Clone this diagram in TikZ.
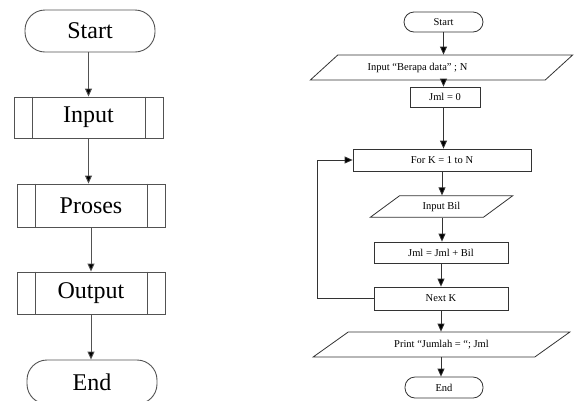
\documentclass[tikz,border=0pt]{standalone}
\usepackage{fontspec}
\setmainfont{Liberation Serif}
\usetikzlibrary{shapes.geometric,arrows.meta}
\begin{document}
\begin{tikzpicture}[x=1pt,y=-1pt,
  lline/.style={draw=black!68, line width=0.9pt},
  lterm/.style={lline, rectangle, rounded corners=20pt, font=\fontsize{24}{26}\selectfont, inner sep=0pt},
  lsub/.style={lline, rectangle, font=\fontsize{24}{26}\selectfont, inner sep=0pt},
  larrow/.style={draw=black!68, line width=0.9pt, -{Triangle[length=8pt,width=7pt,fill=black]}},
  rline/.style={draw=black!80, line width=0.8pt},
  rterm/.style={rline, rectangle, rounded corners=10pt, font=\fontsize{10.5}{12}\selectfont, inner sep=0pt},
  rbox/.style={rline, rectangle, font=\fontsize{10.5}{12}\selectfont, inner sep=0pt},
  rpar/.style={rline, trapezium, trapezium stretches=true, font=\fontsize{10.5}{12}\selectfont, inner sep=0pt},
  rarrow/.style={draw=black!80, line width=0.8pt, -{Triangle[length=8pt,width=7pt,fill=black]}}
]
\useasboundingbox (0,0) rectangle (575,400);

% left flowchart
\node[lterm, minimum width=130pt, minimum height=42pt] (ls) at (90,31) {Start};
\node[lsub, minimum width=149pt, minimum height=41pt] (li) at (88.5,117.5) {Input};
\node[lsub, minimum width=148pt, minimum height=43pt] (lp) at (91,205.5) {Proses};
\node[lsub, minimum width=148pt, minimum height=42pt] (lo) at (91,293) {Output};
\node[lterm, minimum width=130pt, minimum height=44pt] (le) at (92,382) {End};
\foreach \n in {li,lp,lo}{
  \draw[lline] ([xshift=18.5pt]\n.north west) -- ([xshift=18.5pt]\n.south west);
  \draw[lline] ([xshift=-18.5pt]\n.north east) -- ([xshift=-18.5pt]\n.south east);
}
\draw[larrow] (ls.south -| li.north) -- (li.north);
\draw[larrow] (li.south) -- (li.south |- lp.north);
\draw[larrow] (lp.south) -- (lp.south |- lo.north);
\draw[larrow] (lo.south) -- (lo.south |- le.north);

% right flowchart
\node[rterm, minimum width=79pt, minimum height=20pt] (rs) at (443.5,22) {Start};
\node[rpar, trapezium left angle=26, trapezium right angle=154, minimum width=263pt, minimum height=25pt] (rin) at (441.5,67.5) {Input “Berapa data” ; N\kern48pt};
\node[rbox, minimum width=70pt, minimum height=20pt] (rj) at (445,97) {Jml = 0};
\node[rbox, minimum width=178pt, minimum height=22pt] (rf) at (442,160) {For K = 1 to N};
\node[rpar, trapezium left angle=36, trapezium right angle=144, minimum width=143pt, minimum height=21.5pt] (rb) at (441.5,206.5) {Input Bil};
\node[rbox, minimum width=134pt, minimum height=21pt] (rjb) at (441,252.5) {Jml = Jml + Bil};
\node[rbox, minimum width=134pt, minimum height=23pt] (rn) at (441,298.5) {Next K};
\node[rpar, trapezium left angle=26.6, trapezium right angle=153.4, minimum width=257pt, minimum height=25pt] (rp) at (441.5,344.5) {Print “Jumlah = “; Jml};
\node[rterm, minimum width=78pt, minimum height=21pt] (re) at (444,387.5) {End};

\draw[rarrow] (rs.south) -- (rs.south |- rin.north);
\draw[rarrow] (rin.south -| rs.south) -- (rs.south |- rj.north);
\draw[rarrow] (rs.south |- rj.south) -- (rs.south |- rf.north);
\draw[rarrow] (rf.south) -- (rf.south |- rb.north);
\draw[rarrow] (rb.south -| rf.south) -- (rf.south |- rjb.north);
\draw[rarrow] (rjb.south) -- (rjb.south |- rn.north);
\draw[rarrow] (rn.south) -- (rn.south |- rp.north);
\draw[rarrow] (rp.south -| rn.south) -- (rn.south |- re.north);

\coordinate (loopx) at (317,0);
\draw[rarrow] (rn.west) -- (rn.west -| loopx) |- (rf.west);
\end{tikzpicture}
\end{document}
